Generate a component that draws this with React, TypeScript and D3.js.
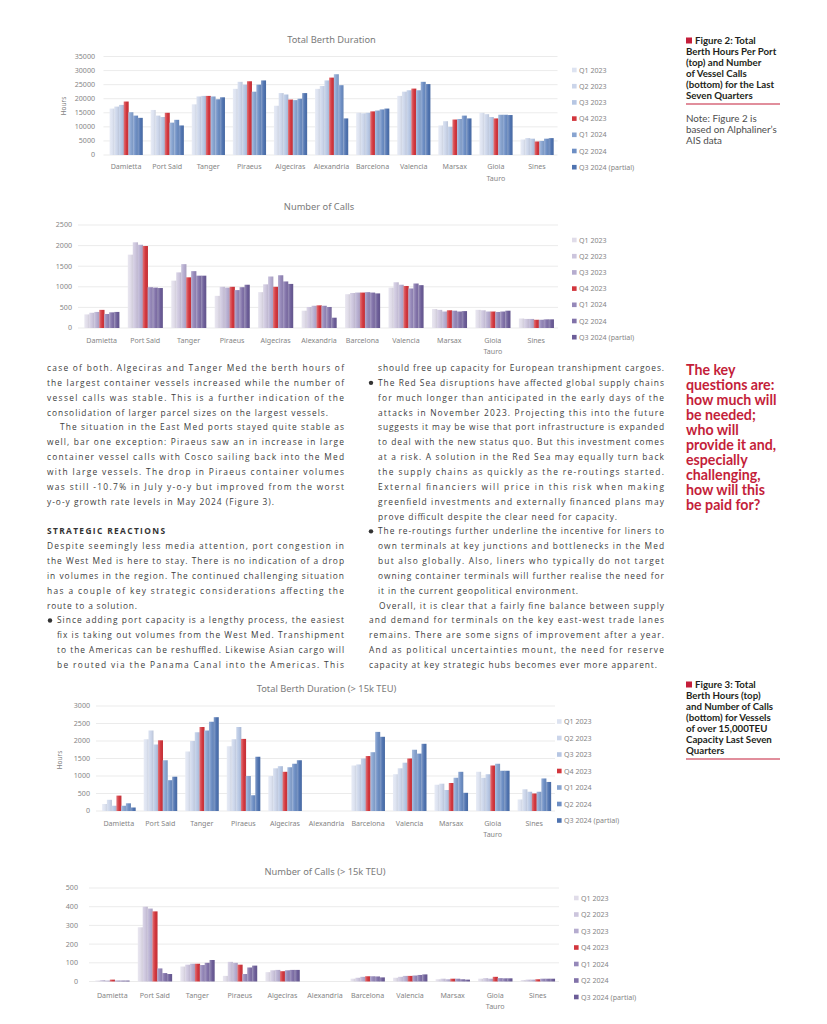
import React from 'react';
import * as d3 from 'd3';

// categories + series
const ports = ['Damietta', 'Port Said', 'Tanger', 'Piraeus', 'Algeciras', 'Alexandria', 'Barcelona', 'Valencia', 'Marsax', 'Gioia Tauro', 'Sines'];
const portLabels = ['Damietta', 'Port Said', 'Tanger', 'Piraeus', 'Algeciras', 'Alexandria', 'Barcelona', 'Valencia', 'Marsax', 'Gioia\nTauro', 'Sines'];
const quarters = ['Q1 2023', 'Q2 2023', 'Q3 2023', 'Q4 2023', 'Q1 2024', 'Q2 2024', 'Q3 2024 (partial)'];

// one row per port, one column per quarter
const berthHours = [
  [16500, 17200, 17800, 19000, 15200, 14000, 13200],
  [16000, 14000, 13500, 15000, 11500, 12500, 10500],
  [18000, 20800, 21000, 21000, 20800, 19800, 20500],
  [23500, 26000, 25000, 26200, 22500, 25000, 26500],
  [17500, 22000, 21500, 19700, 19500, 20000, 22000],
  [23500, 24500, 26500, 27500, 28700, 24800, 13000],
  [15000, 14800, 15000, 15500, 15800, 16200, 16500],
  [21000, 22500, 23000, 23600, 23000, 26000, 25200],
  [10500, 12000, 10000, 12600, 12800, 14000, 13000],
  [15000, 14500, 13500, 13000, 14300, 14300, 14200],
  [5500, 6000, 5800, 4800, 5000, 5800, 6000],
];

const vesselCalls = [
  [330, 370, 390, 440, 340, 380, 390],
  [1780, 2080, 2020, 1990, 990, 980, 970],
  [1150, 1350, 1550, 1230, 1380, 1270, 1270],
  [780, 1000, 980, 1000, 920, 990, 1050],
  [870, 1060, 1250, 1000, 1280, 1130, 1070],
  [420, 510, 540, 550, 540, 510, 250],
  [820, 850, 860, 860, 870, 860, 840],
  [980, 1110, 1050, 1020, 960, 1080, 1040],
  [460, 440, 400, 430, 420, 400, 410],
  [440, 430, 400, 400, 390, 400, 420],
  [230, 220, 220, 200, 200, 210, 210],
];

const berthHoursLarge = [
  [200, 320, 150, 440, 150, 220, 100],
  [2050, 2300, 1900, 2020, 1450, 880, 980],
  [1700, 2000, 2250, 2400, 2300, 2550, 2680],
  [1850, 2050, 2400, 2060, 1000, 450, 1550],
  [1000, 1220, 1280, 1120, 1250, 1350, 1450],
  [0, 0, 0, 0, 0, 0, 0],
  [1300, 1330, 1500, 1570, 1680, 2260, 2120],
  [1050, 1220, 1380, 1500, 1750, 1640, 1920],
  [750, 780, 600, 800, 950, 1120, 520],
  [1120, 950, 1050, 1300, 1350, 1150, 1150],
  [330, 620, 550, 500, 550, 930, 830],
];

const callsLarge = [
  [5, 8, 5, 10, 5, 5, 5],
  [290, 400, 390, 375, 70, 45, 40],
  [80, 90, 95, 95, 88, 100, 115],
  [30, 105, 100, 90, 40, 75, 85],
  [50, 60, 62, 55, 60, 62, 62],
  [0, 0, 0, 0, 0, 0, 0],
  [15, 20, 25, 28, 28, 27, 22],
  [20, 25, 30, 30, 32, 35, 38],
  [12, 15, 12, 15, 15, 12, 10],
  [15, 18, 15, 25, 18, 17, 17],
  [8, 10, 10, 12, 15, 15, 15],
];

const berthTicks = [0, 5000, 10000, 15000, 20000, 25000, 30000, 35000];
const callTicks = [0, 500, 1000, 1500, 2000, 2500];
const berthLargeTicks = [0, 500, 1000, 1500, 2000, 2500, 3000];
const callLargeTicks = [0, 100, 200, 300, 400, 500];

const blueShades = ['#dde3f1', '#cbd5ea', '#b6c6e3', '#d2363d', '#88a4d0', '#6d8ec4', '#4f73b0'];
const purpleShades = ['#e0dce9', '#ccc5dd', '#b5accf', '#d2363d', '#9588b9', '#8172a9', '#6c5d98'];

const RED = '#c41e3a';
const CHART_FONT = '"Noto Sans", "Open Sans", sans-serif';
const BODY_FONT = '"Open Sans", "Noto Sans", sans-serif';
const SIDE_FONT = '"Lato", "Open Sans", sans-serif';

interface Frame {
  id: string;
  titleY: number;
  top: number;
  bottom: number;
  left: number;
  right: number;
  tickX: number;
  labelY: number;
  legendX: number;
  legendY: number;
  legendStep: number;
  axisTitle?: { x: number; y: number };
}

const BarChart: React.FC<{ title: string; rows: number[][]; ticks: number[]; colors: string[]; f: Frame }> = ({ title, rows, ticks, colors, f }) => {
  const x0 = d3.scaleBand<string>().domain(ports).range([f.left, f.right]).paddingInner(0.2).paddingOuter(0.1);
  const x1 = d3.scaleBand<string>().domain(quarters).range([0, x0.bandwidth()]).padding(0);
  const y = d3.scaleLinear().domain([0, d3.max(ticks) as number]).range([f.bottom, f.top]);
  const cx = (f.left + f.right) / 2;

  return (
    <g>
      <defs>
        {colors.map((c, i) => (
          <linearGradient key={i} id={`${f.id}-g${i}`} x1="0" x2="1" y1="0" y2="0">
            <stop offset="0" stopColor={d3.interpolateRgb(c, '#ffffff')(0.3)} />
            <stop offset="0.55" stopColor={c} />
            <stop offset="1" stopColor={d3.interpolateRgb(c, '#000000')(0.08)} />
          </linearGradient>
        ))}
      </defs>
      <text x={cx} y={f.titleY + 3} textAnchor="middle" fontSize={9.3} fill="#7a7a7a" fontFamily={CHART_FONT}>{title}</text>
      {ticks.map(t => (
        <g key={t}>
          <line x1={f.left - 2} x2={f.right} y1={y(t)} y2={y(t)} stroke="#e3e3e3" strokeWidth={0.7} />
          <text x={f.tickX} y={y(t) + 2.4} textAnchor="end" fontSize={7.1} fill="#858585" fontFamily={CHART_FONT}>{t}</text>
        </g>
      ))}
      {f.axisTitle && (
        <text transform={`translate(${f.axisTitle.x},${f.axisTitle.y}) rotate(-90)`} textAnchor="middle" fontSize={6.5} fill="#858585" fontFamily={CHART_FONT}>Hours</text>
      )}
      {ports.map((p, pi) => (
        <g key={p} transform={`translate(${x0(p)},0)`}>
          {quarters.map((q, qi) => {
            const v = rows[pi][qi];
            if (!v) return null;
            return (
              <rect key={q} x={x1(q)} width={x1.bandwidth() + 0.3} y={y(v)} height={y(0) - y(v)} fill={`url(#${f.id}-g${qi})`} />
            );
          })}
        </g>
      ))}
      {portLabels.map((l, pi) => (
        <text key={l} x={(x0(ports[pi]) as number) + x0.bandwidth() / 2} y={f.labelY + 2.5} textAnchor="middle" fontSize={7.1} fill="#858585" fontFamily={CHART_FONT}>
          {l.split('\n').map((s, si) => (
            <tspan key={si} x={(x0(ports[pi]) as number) + x0.bandwidth() / 2} dy={si === 0 ? 0 : 11.5}>{s}</tspan>
          ))}
        </text>
      ))}
      {quarters.map((q, qi) => {
        const ly = f.legendY + qi * f.legendStep;
        return (
          <g key={q}>
            <rect x={f.legendX} y={ly - 2.3} width={4.6} height={4.6} fill={colors[qi]} />
            <text x={f.legendX + 7} y={ly + 2.5} fontSize={7.1} fill="#858585" fontFamily={CHART_FONT}>{q}</text>
          </g>
        );
      })}
    </g>
  );
};

type Line = { t: string; x: number; w: number; b?: boolean; h?: boolean };

const leftLines: Line[] = [
  { t: 'case of both. Algeciras and Tanger Med the berth hours of', x: 47, w: 297 },
  { t: 'the largest container vessels increased while the number of', x: 47, w: 297 },
  { t: 'vessel calls was stable. This is a further indication of the', x: 47, w: 297 },
  { t: 'consolidation of larger parcel sizes on the largest vessels.', x: 47, w: 281 },
  { t: 'The situation in the East Med ports stayed quite stable as', x: 60, w: 284 },
  { t: 'well, bar one exception: Piraeus saw an in increase in large', x: 47, w: 297 },
  { t: 'container vessel calls with Cosco sailing back into the Med', x: 47, w: 297 },
  { t: 'with large vessels. The drop in Piraeus container volumes', x: 47, w: 297 },
  { t: 'was still -10.7% in July y-o-y but improved from the worst', x: 47, w: 297 },
  { t: 'y-o-y growth rate levels in May 2024 (Figure 3).', x: 47, w: 227 },
  { t: '', x: 47, w: 0 },
  { t: 'STRATEGIC REACTIONS', x: 47, w: 118, h: true },
  { t: 'Despite seemingly less media attention, port congestion in', x: 47, w: 297 },
  { t: 'the West Med is here to stay. There is no indication of a drop', x: 47, w: 297 },
  { t: 'in volumes in the region. The continued challenging situation', x: 47, w: 297 },
  { t: 'has a couple of key strategic considerations affecting the', x: 47, w: 297 },
  { t: 'route to a solution.', x: 47, w: 90 },
  { t: 'Since adding port capacity is a lengthy process, the easiest', x: 57, w: 287, b: true },
  { t: 'fix is taking out volumes from the West Med. Transhipment', x: 57, w: 287 },
  { t: 'to the Americas can be reshuffled. Likewise Asian cargo will', x: 57, w: 287 },
  { t: 'be routed via the Panama Canal into the Americas. This', x: 57, w: 287 },
];

const rightLines: Line[] = [
  { t: 'should free up capacity for European transhipment cargoes.', x: 378, w: 286 },
  { t: 'The Red Sea disruptions have affected global supply chains', x: 378, w: 286, b: true },
  { t: 'for much longer than anticipated in the early days of the', x: 378, w: 286 },
  { t: 'attacks in November 2023. Projecting this into the future', x: 378, w: 286 },
  { t: 'suggests it may be wise that port infrastructure is expanded', x: 378, w: 286 },
  { t: 'to deal with the new status quo. But this investment comes', x: 378, w: 286 },
  { t: 'at a risk. A solution in the Red Sea may equally turn back', x: 378, w: 286 },
  { t: 'the supply chains as quickly as the re-routings started.', x: 378, w: 286 },
  { t: 'External financiers will price in this risk when making', x: 378, w: 286 },
  { t: 'greenfield investments and externally financed plans may', x: 378, w: 286 },
  { t: 'prove difficult despite the clear need for capacity.', x: 378, w: 239 },
  { t: 'The re-routings further underline the incentive for liners to', x: 378, w: 286, b: true },
  { t: 'own terminals at key junctions and bottlenecks in the Med', x: 378, w: 286 },
  { t: 'but also globally. Also, liners who typically do not target', x: 378, w: 286 },
  { t: 'owning container terminals will further realise the need for', x: 378, w: 286 },
  { t: 'it in the current geopolitical environment.', x: 378, w: 200 },
  { t: 'Overall, it is clear that a fairly fine balance between supply', x: 379, w: 285 },
  { t: 'and demand for terminals on the key east-west trade lanes', x: 369, w: 295 },
  { t: 'remains. There are some signs of improvement after a year.', x: 369, w: 295 },
  { t: 'And as political uncertainties mount, the need for reserve', x: 369, w: 295 },
  { t: 'capacity at key strategic hubs becomes ever more apparent.', x: 369, w: 288 },
];

const fig2Caption = ['Figure 2: Total', 'Berth Hours Per Port', '(top) and Number', 'of Vessel Calls', '(bottom) for the Last', 'Seven Quarters'];
const fig2Note = ['Note: Figure 2 is', 'based on Alphaliner\u2019s', 'AIS data'];
const pullQuote = ['The key', 'questions are:', 'how much will', 'be needed;', 'who will', 'provide it and,', 'especially', 'challenging,', 'how will this', 'be paid for?'];
const fig3Caption = ['Figure 3: Total', 'Berth Hours (top)', 'and Number of Calls', '(bottom) for Vessels', 'of over 15,000TEU', 'Capacity Last Seven', 'Quarters'];

const BodyColumn: React.FC<{ lines: Line[]; bulletX: number }> = ({ lines, bulletX }) => (
  <g fontFamily={BODY_FONT} fontSize={8.4}>
    {lines.map((l, i) => {
      const yy = 368 + i * 14.85;
      if (!l.t) return null;
      return (
        <g key={i}>
          {l.b && <circle cx={bulletX} cy={yy} r={2.2} fill="#333" />}
          <text x={l.x} y={yy + 3} textLength={l.w} lengthAdjust="spacing" fontWeight={l.h ? 700 : 400} fill={l.h ? '#333' : '#404040'}>{l.t}</text>
        </g>
      );
    })}
  </g>
);

const Caption: React.FC<{ lines: string[]; top: number; step: number }> = ({ lines, top, step }) => (
  <g fontFamily={SIDE_FONT} fontWeight={700} fontSize={9.7} fill="#231f20">
    <rect x={686} y={top - 6.5} width={6} height={6} fill={RED} />
    {lines.map((l, i) => (
      <text key={i} x={i === 0 ? 695 : 686} y={top + i * step}>{l}</text>
    ))}
  </g>
);

export default function App() {
  return (
    <div style={{ position: 'absolute', left: 0, top: 0 }}>
      <svg width={827} height={1024} viewBox="0 0 827 1024" style={{ display: 'block', background: '#fff' }}>
        <BarChart
          title="Total Berth Duration"
          rows={berthHours}
          ticks={berthTicks}
          colors={blueShades}
          f={{ id: 'c1', titleY: 40, top: 56.5, bottom: 155, left: 105.5, right: 557.5, tickX: 95, labelY: 166.5, legendX: 572, legendY: 70, legendStep: 16.2, axisTitle: { x: 66, y: 106 } }}
        />
        <BarChart
          title="Number of Calls"
          rows={vesselCalls}
          ticks={callTicks}
          colors={purpleShades}
          f={{ id: 'c2', titleY: 207, top: 225, bottom: 328, left: 80, right: 558, tickX: 72, labelY: 340, legendX: 572, legendY: 240, legendStep: 16.2 }}
        />
        <BarChart
          title="Total Berth Duration (> 15k TEU)"
          rows={berthHoursLarge}
          ticks={berthLargeTicks}
          colors={blueShades}
          f={{ id: 'c3', titleY: 689, top: 706, bottom: 811, left: 98, right: 555, tickX: 90, labelY: 823, legendX: 557, legendY: 721.5, legendStep: 16.5, axisTitle: { x: 62, y: 760 } }}
        />
        <BarChart
          title="Number of Calls (> 15k TEU)"
          rows={callsLarge}
          ticks={callLargeTicks}
          colors={purpleShades}
          f={{ id: 'c4', titleY: 872, top: 888, bottom: 981.5, left: 91, right: 559, tickX: 78, labelY: 995, legendX: 574, legendY: 898, legendStep: 16.5 }}
        />

        <BodyColumn lines={leftLines} bulletX={50} />
        <BodyColumn lines={rightLines} bulletX={371} />

        <Caption lines={fig2Caption} top={44} step={11} />
        <line x1={686} x2={780} y1={104} y2={104} stroke={RED} strokeWidth={1.2} />
        <g fontFamily={SIDE_FONT} fontSize={9.8} fill="#4d4d4d">
          {fig2Note.map((l, i) => (
            <text key={i} x={686} y={121.5 + i * 11}>{l}</text>
          ))}
        </g>

        <g fontFamily={SIDE_FONT} fontWeight={700} fontSize={14.2} fill={RED}>
          {pullQuote.map((l, i) => (
            <text key={i} x={686} y={375 + i * 15}>{l}</text>
          ))}
        </g>

        <Caption lines={fig3Caption} top={688} step={11} />
        <line x1={686} x2={780} y1={759} y2={759} stroke={RED} strokeWidth={1.2} />
      </svg>
    </div>
  );
}
